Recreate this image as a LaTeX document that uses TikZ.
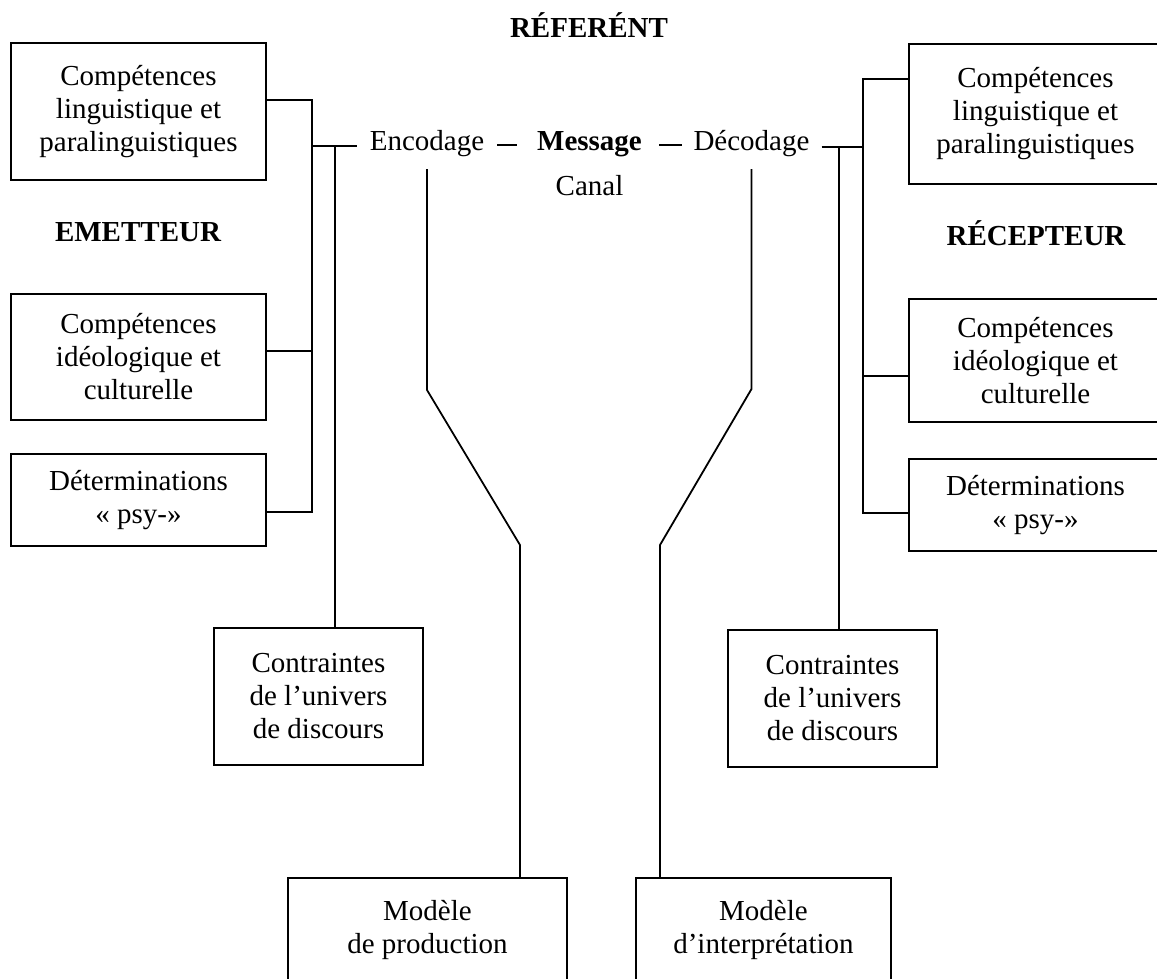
\documentclass[tikz,border=0pt]{standalone}
\usepackage{fontspec}
\setmainfont{Liberation Serif}
\usetikzlibrary{positioning, calc}
\tikzstyle{box} = [rectangle, draw, line width=1.8pt, align=center, inner sep=0pt, outer sep=0pt, font=\fontsize{29}{33}\selectfont]
\tikzstyle{word} = [inner sep=0pt, anchor=base, font=\fontsize{29}{33}\selectfont]
\tikzstyle{heading} = [word, font=\fontsize{29}{33}\selectfont\bfseries]
\tikzstyle{link} = [line width=1.8pt, black]

\begin{document}
\begin{tikzpicture}[x=1pt, y=1pt]

	\clip (0,0) rectangle (1157,-978);

	% Emetteur
	\node (lingL) [box, minimum width=255pt, minimum height=137pt] at (138.5,-111.5) {Compétences\\linguistique et\\paralinguistiques};
	\node (ideoL) [box, minimum width=255pt, minimum height=126pt, below=114pt of lingL] {Compétences\\idéologique et\\culturelle};
	\node (detL) [box, minimum width=255pt, minimum height=92pt, below=34pt of ideoL] {Déterminations\\«~psy-»};
	\node (contL) [box, minimum width=209pt, minimum height=137pt] at (318.5,-696.5) {Contraintes\\de l’univers\\de discours};
	\node (emet) [heading] at (138,-241) {EMETTEUR};

	% Recepteur
	\node (lingR) [box, minimum width=253pt, minimum height=140pt] at (1035.5,-114) {Compétences\\linguistique et\\paralinguistiques};
	\node (ideoR) [box, minimum width=253pt, minimum height=123pt, below=115pt of lingR] {Compétences\\idéologique et\\culturelle};
	\node (detR) [box, minimum width=253pt, minimum height=92pt, below=37pt of ideoR] {Déterminations\\«~psy-»};
	\node (contR) [box, minimum width=209pt, minimum height=137pt] at (832.5,-698.5) {Contraintes\\de l’univers\\de discours};
	\node (recep) [heading] at (1036,-245) {RÉCEPTEUR};

	% Message line
	\node (referent) [heading] at (589,-37) {RÉFERÉNT};
	\node (enc) [word] at (427,-150) {Encodage};
	\node (msg) [heading] at (589.5,-150) {Message};
	\node (dec) [word] at (751.5,-150) {Décodage};
	\node (canal) [word] at (589.5,-195) {Canal};

	% Models
	\node (prod) [box, minimum width=279pt, minimum height=104pt] at (427.5,-930) {Modèle\\de production};
	\node (interp) [box, minimum width=255pt, minimum height=104pt] at (763.5,-930) {Modèle\\d’interprétation};

	\coordinate (busL) at (312,-146);
	\coordinate (busLb) at (335,-146);
	\coordinate (busR) at (863,-147);
	\coordinate (busRb) at (839,-147);
	\coordinate (bendLa) at (427,-390);
	\coordinate (bendLb) at (520,-545);
	\coordinate (bendRa) at (751.5,-389);
	\coordinate (bendRb) at (660,-545);

	% Left connectors
	\draw[link] ([yshift=11.5pt]lingL.east) -- ++(46pt,0) |- ([yshift=-12pt]detL.east);
	\draw[link] ([yshift=6pt]ideoL.east) -- ++(46pt,0);
	\draw[link] (busL) -- ([xshift=-13pt,yshift=4pt]enc.base west);
	\draw[link] (busLb) -- (busLb |- contL.north);

	% Right connectors
	\draw[link] ([yshift=35pt]lingR.west) -- ++(-46pt,0) |- ([yshift=-8pt]detR.west);
	\draw[link] ([yshift=-15.5pt]ideoR.west) -- ++(-46pt,0);
	\draw[link] ([xshift=12pt,yshift=3pt]dec.base east) -- (busR);
	\draw[link] (busRb) -- (busRb |- contR.north);

	% Dashes
	\draw[link] ([xshift=13pt,yshift=5pt]enc.base east) -- ([xshift=-20pt,yshift=5pt]msg.base west);
	\draw[link] ([xshift=17pt,yshift=5pt]msg.base east) -- ([xshift=-11pt,yshift=5pt]dec.base west);

	% Canal
	\draw[link] ([yshift=-19pt]enc.base) -- (bendLa) -- (bendLb) -- (bendLb |- prod.north);
	\draw[link] ([yshift=-19pt]dec.base) -- (bendRa) -- (bendRb) -- (bendRb |- interp.north);

\end{tikzpicture}
\end{document}
